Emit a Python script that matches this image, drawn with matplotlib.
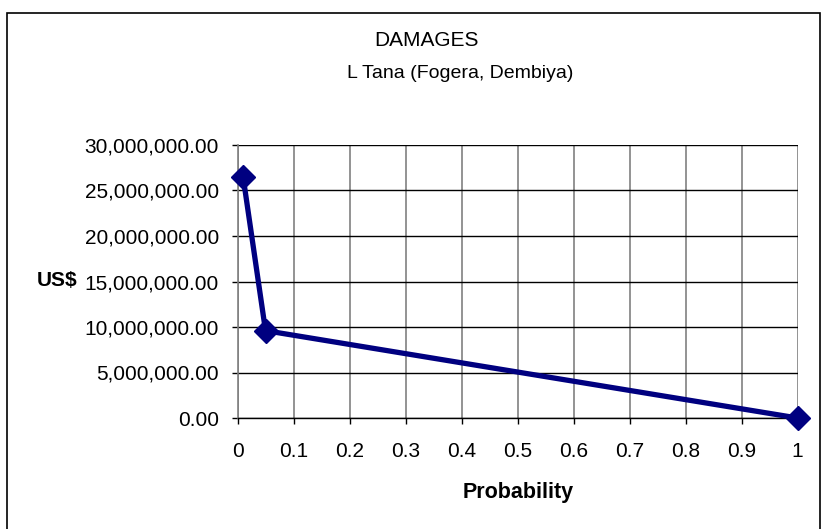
import matplotlib
matplotlib.use("Agg")
import matplotlib.pyplot as plt
from matplotlib.patches import Rectangle
from matplotlib.ticker import FuncFormatter, MultipleLocator

# data
probability = [0.01, 0.05, 1.0]
damages_usd = [26500000, 9600000, 0]

title_lines = ["DAMAGES", "L Tana (Fogera, Dembiya)"]

plt.rcParams['font.family'] = ['Liberation Sans', 'DejaVu Sans']

W, H = 823, 529
fig = plt.figure(figsize=(W / 100, H / 100), dpi=100, facecolor='white')
ax = fig.add_axes([237.5 / W, 1 - 418 / H, 560 / W, 273 / H])

# outer chart border (bottom edge runs off the image)
fig.patches.append(Rectangle((6.5 / W, -0.05), 813 / W, 1.05 - 12.5 / H,
                             transform=fig.transFigure, fill=False,
                             edgecolor='black', linewidth=1.2))

ax.plot(probability, damages_usd, color='#000080', linewidth=3.8,
        marker='D', markersize=12, zorder=5, clip_on=False)

ax.set_xlim(0, 1)
ax.set_ylim(0, 30000000)
ax.xaxis.set_major_locator(MultipleLocator(0.1))
ax.yaxis.set_major_locator(MultipleLocator(5000000))
ax.xaxis.set_major_formatter(FuncFormatter(lambda v, p: f"{v:g}"))
ax.yaxis.set_major_formatter(FuncFormatter(lambda v, p: f"{v:,.2f}"))

ax.grid(axis='x', color='#808080', linewidth=1.2)
ax.grid(axis='y', color='black', linewidth=1.0)
ax.set_axisbelow(True)

for side in ['top', 'right']:
    ax.spines[side].set_visible(False)
ax.spines['left'].set_color('#808080')
ax.spines['left'].set_linewidth(1.2)
ax.spines['bottom'].set_color('black')
ax.spines['bottom'].set_linewidth(1.0)

ax.tick_params(axis='both', direction='out', length=4.5, width=1, labelsize=15,
               colors='black')
ax.tick_params(axis='x', pad=13)
ax.tick_params(axis='y', pad=9)

ax.set_xlabel("Probability", fontsize=15.5, fontweight='bold', va='center')
ax.xaxis.set_label_coords(0.501, -0.272)
ax.set_ylabel("US$", fontsize=15, fontweight='bold', rotation=0,
              ha='right', va='center')
ax.yaxis.set_label_coords(-0.2866, 0.505)

fig.text(426 / W, 1 - 41 / H, title_lines[0], ha='center', va='center',
         fontsize=15)
fig.text(460 / W, 1 - 73 / H, title_lines[1], ha='center', va='center',
         fontsize=14)

fig.savefig("out.png", dpi=100)
